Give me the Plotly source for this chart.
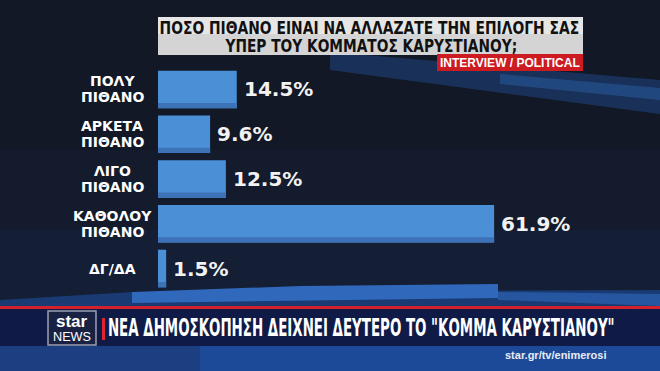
import json
import plotly.graph_objects as go

categories = ["ΠΟΛΥ<br>ΠΙΘΑΝΟ", "ΑΡΚΕΤΑ<br>ΠΙΘΑΝΟ", "ΛΙΓΟ<br>ΠΙΘΑΝΟ", "ΚΑΘΟΛΟΥ<br>ΠΙΘΑΝΟ", "ΔΓ/ΔΑ"]
values = [14.5, 9.6, 12.5, 61.9, 1.5]
value_labels = ["14.5%", "9.6%", "12.5%", "61.9%", "1.5%"]
title_lines = ["ΠΟΣΟ ΠΙΘΑΝΟ ΕΙΝΑΙ ΝΑ ΑΛΛΑΖΑΤΕ ΤΗΝ ΕΠΙΛΟΓΗ ΣΑΣ", "ΥΠΕΡ ΤΟΥ ΚΟΜΜΑΤΟΣ ΚΑΡΥΣΤΙΑΝΟΥ;"]
source_tag = "INTERVIEW / POLITICAL"
headline = 'ΝΕΑ ΔΗΜΟΣΚΟΠΗΣΗ ΔΕΙΧΝΕΙ ΔΕΥΤΕΡΟ ΤΟ "ΚΟΜΜΑ ΚΑΡΥΣΤΙΑΝΟΥ"'
url_text = "star.gr/tv/enimerosi"

W, H = 660, 371
def X(px):
    return px / W
def Y(py):
    return 1 - py / H

SANS = "Liberation Sans, Arial, sans-serif"
WIDE = "DejaVu Sans, Verdana, sans-serif"

fig = go.Figure()
fig.add_trace(go.Bar(
    y=categories, x=values, orientation="h",
    marker=dict(color="#4b8fd6", line=dict(width=0)),
    width=0.84, offset=-0.42, hoverinfo="skip", showlegend=False,
))
fig.add_trace(go.Bar(
    y=categories, x=values, orientation="h",
    marker=dict(color="#3d72b6", line=dict(width=0)),
    width=0.12, offset=0.30, hoverinfo="skip", showlegend=False,
))

def rect(x0, y0, x1, y1, color, layer="below"):
    return dict(type="rect", xref="paper", yref="paper", x0=X(x0), x1=X(x1), y0=Y(y1), y1=Y(y0),
                fillcolor=color, line=dict(width=0), layer=layer)

def poly(pts, color, layer="below"):
    d = "M " + " L ".join(f"{X(a):.5f},{Y(b):.5f}" for a, b in pts) + " Z"
    return dict(type="path", xref="paper", yref="paper", path=d, fillcolor=color,
                line=dict(width=0), layer=layer)

shapes = [
    rect(0, 150, 660, 310, "#131b2c"),
    rect(0, 230, 660, 310, "#141e35"),
    poly([(330, 52), (660, 80), (660, 114), (420, 82), (330, 70)], "rgba(35,80,150,0.45)"),
    poly([(500, 74), (660, 88), (660, 100), (500, 84)], "rgba(45,100,175,0.45)"),
    poly([(0, 300), (132, 292), (660, 290), (660, 308), (0, 308)], "#193a72"),
    poly([(132, 292), (300, 286), (498, 284), (498, 298), (132, 303)], "#3068bc", "above"),
    poly([(498, 292), (660, 294), (660, 306), (498, 300)], "#2656a0", "above"),
    rect(0, 306, 660, 309, "#d3222c", "above"),
    rect(0, 309, 660, 346, "#0f1b46", "above"),
    rect(0, 346, 660, 371, "#1c4a98", "above"),
    rect(0, 346, 200, 371, "#1b3f80", "above"),
    rect(158, 17, 583, 55, "#d4d4d4", "above"),
    rect(158, 17, 583, 34, "#e6e6e6", "above"),
    rect(437, 54, 583, 71, "#cc1b21", "above"),
    dict(type="rect", xref="paper", yref="paper", x0=X(48), x1=X(96), y0=Y(345), y1=Y(311),
         fillcolor="#1a2244", line=dict(color="#9aa0b0", width=1.5), layer="above"),
    rect(102, 318, 105, 340, "#e0242c", "above"),
]

def pa(text, x, y, size, color, family=SANS, bold=True):
    return dict(text=f"<b>{text}</b>" if bold else text, x=X(x), y=Y(y), xref="paper",
                yref="paper", xanchor="center", yanchor="middle", showarrow=False,
                font=dict(family=family, size=size, color=color))

ann = []
ann.append(pa(title_lines[0], 370, 28, 17, "#111111", family=WIDE))
ann.append(pa(title_lines[1], 371, 46, 17, "#111111", family=WIDE))
ann.append(pa(source_tag, 510, 62.5, 12, "white"))
# category labels
for c in categories:
    lines = c.split("<br>")
    n = len(lines)
    for k, ln in enumerate(lines):
        ann.append(dict(text=f"<b>{ln}</b>", x=X(112), xref="paper", y=c, yref="y",
                        xanchor="center", yanchor="middle", yshift=(n - 1) * 8 - k * 16,
                        showarrow=False, font=dict(family=WIDE, size=14, color="white")))
# value labels
for c, v, t in zip(categories, values, value_labels):
    ann.append(dict(text=f"<b>{t}</b>", x=v, y=c, xref="x", yref="y", xanchor="left",
                    yanchor="middle", xshift=5, showarrow=False,
                    font=dict(family=WIDE, size=20, color="#f2f2f2")))
# logo + headline
ann.append(pa("star", 72, 321, 17, "white"))
ann.append(pa("NEWS", 72, 337, 12, "white", bold=False))
ann.append(pa(headline, 361.5, 328, 24, "white", family=WIDE))
ann.append(pa(url_text, 556, 355, 11, "#e8ecf4"))

# target rendered widths (px) for the condensed broadcast typeface
squeeze = {title_lines[0]: 420, title_lines[1]: 292, headline: 507, "NEWS": 38}

fig.update_layout(
    width=W, height=H, margin=dict(l=0, r=0, t=0, b=0),
    paper_bgcolor="#121826", plot_bgcolor="rgba(0,0,0,0)",
    barmode="overlay", shapes=shapes, annotations=ann, showlegend=False,
    xaxis=dict(domain=[X(158), 1], range=[0, 502 / 5.43], visible=False, fixedrange=True),
    yaxis=dict(domain=[Y(290.9), Y(67.1)], range=[4.5, -0.5], type="category",
               visible=False, fixedrange=True),
)

post = """
var gd = document.getElementById('{plot_id}');
var targets = %s;
function squeezeText(){
  gd.querySelectorAll('text.annotation-text').forEach(function(t){
    var k = t.textContent;
    if (!targets[k]) return;
    if (t.getAttribute('data-orig-tf') === null) {
      t.setAttribute('data-orig-tf', t.getAttribute('transform') || '');
    }
    var len = t.getComputedTextLength();
    if (!len) return;
    var s = targets[k] / len;
    var cx = parseFloat(t.getAttribute('x')) || 0;
    var tf = t.getAttribute('data-orig-tf') + ' translate(' + cx + ' 0) scale(' + s + ' 1) translate(' + (-cx) + ' 0)';
    t.setAttribute('transform', tf.trim());
  });
}
squeezeText();
if (gd.on) { gd.on('plotly_afterplot', squeezeText); }
""" % json.dumps(squeeze)

fig.write_html("out.html", post_script=post)
